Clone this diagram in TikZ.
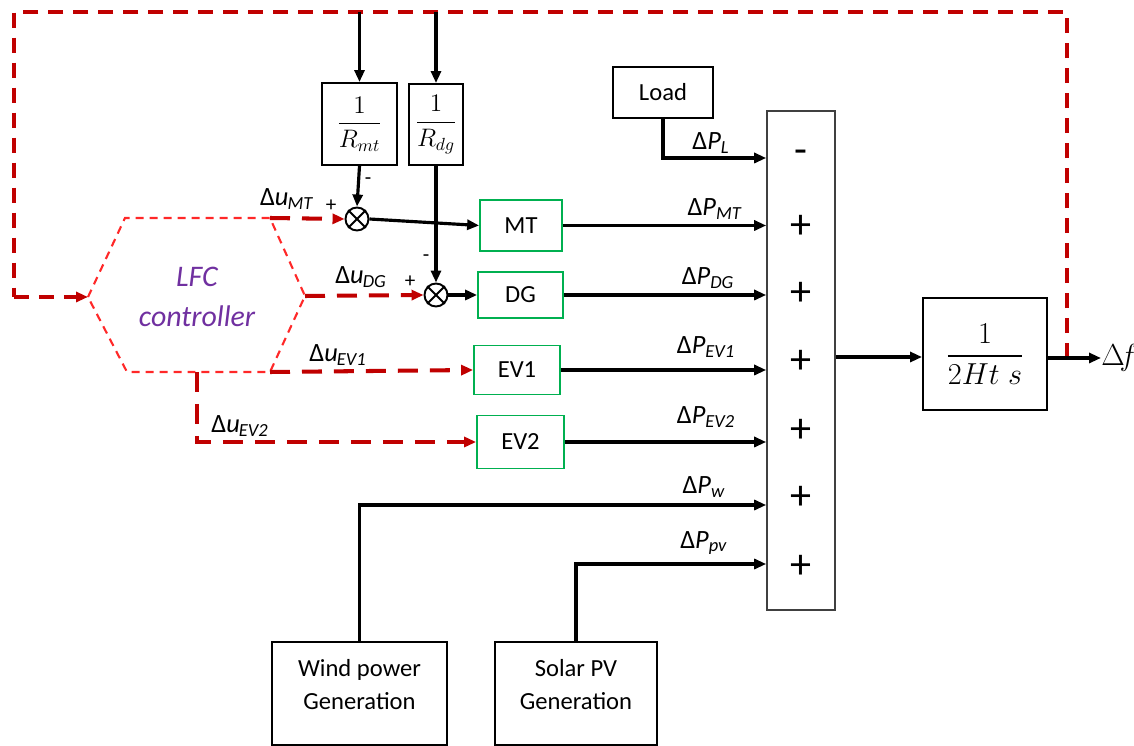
\documentclass[tikz,border=0pt]{standalone}
\usepackage{fontspec}
\setmainfont{Carlito}
\usepackage{amsmath}
\usetikzlibrary{arrows.meta}

\definecolor{dunkelrot}{RGB}{192,0,0}
\definecolor{hellrot}{RGB}{255,40,40}
\definecolor{lila}{RGB}{112,48,160}
\definecolor{gruen}{RGB}{0,176,80}

\tikzset{
  block/.style={draw, line width=1.1pt, inner sep=0pt, align=center, font=\fontsize{14}{19}\selectfont},
  gblock/.style={block, draw=gruen, line width=1pt},
  summe/.style={draw, line width=1.1pt, circle, minimum size=0.46cm, inner sep=0pt},
  signal/.style={line width=1.8pt, ->},
  regler/.style={draw=dunkelrot, line width=2.3pt, dash pattern=on 0.4cm off 0.24cm, ->},
  rueck/.style={draw=dunkelrot, line width=2.3pt, dash pattern=on 0.3cm off 0.2cm},
  lab/.style={inner sep=0pt, font=\fontsize{15}{17}\selectfont},
  vz/.style={inner sep=0pt, font=\fontsize{24}{26}\selectfont},
  klein/.style={inner sep=0pt, font=\fontsize{12}{14}\selectfont}
}
\newcommand{\dsig}[2]{Δ\textit{#1}\textsubscript{\kern-0.5pt\textit{#2}}}

\begin{document}
\begin{tikzpicture}[x=0.02cm, y=-0.02cm, >={Triangle[length=0.24cm,width=0.2cm]}]
\useasboundingbox (0,0) rectangle (1134,746);

% Bloecke oben:
\node[block, minimum width=1.5cm, minimum height=1.64cm] (rmt) at (359.5,124) {$\dfrac{1}{R_{mt}}$}; % 1/Rmt
\node[block, minimum width=1.08cm, minimum height=1.62cm] (rdg) at (436,124.5) {$\dfrac{1}{R_{dg}}$}; % 1/Rdg
\node[block, minimum width=2cm, minimum height=1.02cm] (load) at (663,92.5) {Load};

% Summierstellen:
\node[summe] (s1) at (357,219) {};
\node[summe] (s2) at (436,295) {};
\draw[line width=1.1pt] (s1.north east) -- (s1.south west) (s1.north west) -- (s1.south east);
\draw[line width=1.1pt] (s2.north east) -- (s2.south west) (s2.north west) -- (s2.south east);

% gruene Bloecke:
\node[gblock, minimum width=1.64cm, minimum height=1.02cm] (mt) at (521,225.5) {MT};
\node[gblock, minimum width=1.7cm, minimum height=0.92cm] (dg) at (520.5,295) {DG};
\node[gblock, minimum width=1.72cm, minimum height=0.98cm] (ev1) at (517,370) {EV1};
\node[gblock, minimum width=1.74cm, minimum height=1.06cm] (ev2) at (520.5,442) {EV2};

% Summenbalken und Strecke:
\node[draw, line width=0.9pt, draw=black!75, minimum width=1.36cm, minimum height=9.98cm, inner sep=0pt] (bar) at (801,360.5) {};
\node[block, minimum width=2.48cm, minimum height=2.24cm, font=\fontsize{19}{22}\selectfont] (tf) at (985,354) {$\dfrac{1}{2Ht\;s}$};
\node[inner sep=0pt, font=\fontsize{16}{18}\selectfont, anchor=west] (df) at (1101,358) {$\Delta\! f$};

% Erzeugung unten:
\node[block, minimum width=3.5cm, minimum height=2.06cm, text depth=10pt] (wind) at (359.5,693.5) {Wind power\\Generation};
\node[block, minimum width=3.24cm, minimum height=2.06cm, text depth=10pt] (solar) at (576,693.5) {Solar PV\\Generation};

% LFC-Regler (Sechseck):
\coordinate (h1) at (88,297);
\coordinate (h2) at (125,218);
\coordinate (h3) at (270,218);
\coordinate (h4) at (305,296);
\coordinate (h5) at (270,372);
\coordinate (h6) at (127,372);
\draw[hellrot, line width=1.2pt, dash pattern=on 0.16cm off 0.12cm] (h1) -- (h2) -- (h3) -- (h4) -- (h5) -- (h6) -- cycle;
\node[text=lila, align=center, font=\fontsize{17}{23}\selectfont\itshape] (lfc) at (197,297) {LFC\\controller};

% Rueckfuehrung Delta f:
\coordinate (ro) at (1067,12);
\coordinate (lo) at (14,12);
\coordinate (lu) at (14,297);
\coordinate (rf) at (1067,358);
\draw[rueck] (rf) -- (ro) -- (lo) -- (lu);
\draw[rueck, ->] (lu) -- (h1);
\coordinate (a1) at (rmt.north |- lo);
\coordinate (a2) at (rdg.north |- lo);
\draw[signal] (a1) -- (rmt.north);
\draw[signal] (a2) -- (rdg.north);

% Stellgroessen:
\draw[regler] (h3) -- (s1.west);
\draw[regler] (h4) -- (s2.west);
\draw[regler] (h5) -- (ev1.west);
\coordinate (e1) at (197,372);
\coordinate (e2) at (197,442);
\draw[regler] (e1) -- (e2) -- (ev2.west);

% Droop-Zweige:
\draw[signal] (rmt.south) -- (s1.north);
\draw[signal] (rdg.south) -- (s2.north);
\draw[signal] (s1.east) -- (mt.west);
\draw[signal] (s2.east) -- (dg.west);

% Leistungen in den Summenbalken:
\coordinate (pl) at (bar.west |- 0,158);
\draw[signal] (load.south) |- (pl);
\draw[signal] (mt.east) -- (mt.east -| bar.west);
\draw[signal] (dg.east) -- (dg.east -| bar.west);
\draw[signal] (ev1.east) -- (ev1.east -| bar.west);
\draw[signal] (ev2.east) -- (ev2.east -| bar.west);
\coordinate (pw) at (bar.west |- 0,505);
\coordinate (ppv) at (bar.west |- 0,564);
\draw[signal] (wind.north) |- (pw);
\draw[signal] (solar.north) |- (ppv);
\coordinate (bo) at (bar.east |- 0,357);
\draw[signal] (bo) -- (bo -| tf.west);
\draw[signal] (tf.east |- df.west) -- (df.west);

% Vorzeichen im Balken:
\node[vz] (m1) at (801,157) {-};
\foreach \y [count=\i] in {227,294,362,431,498,567}
  \node[vz] (p\i) at (801,\y) {+};

% Beschriftungen:
\node[lab] (lmt) at (287,199) {\dsig{u}{MT}};
\node[lab] (ldg) at (361,277) {\dsig{u}{DG}};
\node[lab] (lev1) at (338,355) {\dsig{u}{EV1}};
\node[lab] (lev2) at (240,426) {\dsig{u}{EV2}};
\node[klein] (pl1) at (331,206) {+};
\node[klein] (ml1) at (368,181) {-};
\node[klein] (pl2) at (410,282) {+};
\node[klein] (ml2) at (426,258) {-};
\node[lab] (dpl) at (711,143) {Δ\textit{P}\textsubscript{\textit{L}}};
\node[lab] (dpmt) at (715,209) {Δ\textit{P}\textsubscript{\textit{MT}}};
\node[lab] (dpdg) at (708,278) {Δ\textit{P}\textsubscript{\textit{DG}}};
\node[lab] (dpev1) at (706,347) {Δ\textit{P}\textsubscript{\textit{EV1}}};
\node[lab] (dpev2) at (706,417) {Δ\textit{P}\textsubscript{\textit{EV2}}};
\node[lab] (dpw) at (704,487) {Δ\textit{P}\textsubscript{\textit{w}}};
\node[lab] (dppv) at (704,543) {Δ\textit{P}\textsubscript{\textit{pv}}};
\end{tikzpicture}
\end{document}
